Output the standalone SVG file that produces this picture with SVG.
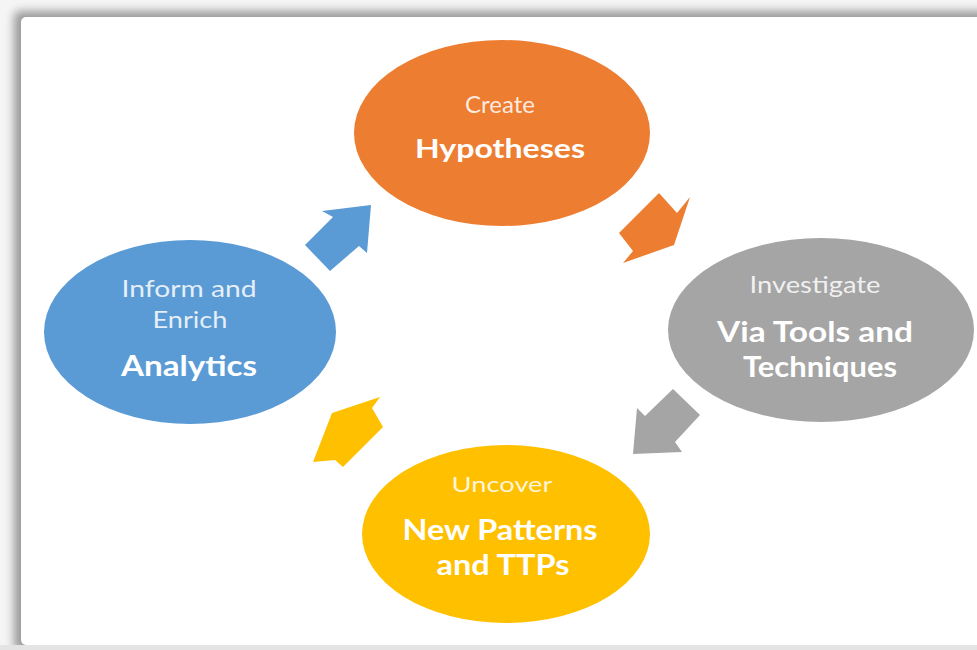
<svg xmlns="http://www.w3.org/2000/svg" width="977" height="650" viewBox="0 0 977 650">
<defs>
<filter id="sh" x="-10%" y="-10%" width="120%" height="120%">
<feGaussianBlur stdDeviation="5"/>
</filter>
<style>
.t{font-family:Lato,"Open Sans","Liberation Sans",sans-serif;text-anchor:middle;}
.n{fill:#ffffff;fill-opacity:0.85;font-weight:400;}
.b{fill:#ffffff;font-weight:700;}
</style>
</defs>
<rect x="0" y="0" width="977" height="650" fill="#f5f5f5"/>
<rect x="14" y="11" width="990" height="640" rx="6" fill="#9a9a9a" filter="url(#sh)"/>
<rect x="21" y="17" width="970" height="628" rx="5" fill="#ffffff"/>
<rect x="0" y="645" width="977" height="5" fill="#e4e4e4"/>

<g id="connectors">
<polygon points="322,211 371,205 367,253 359,246 330,271 305,245 333,217" fill="#5b9bd5"/>
<polygon points="659,193 677,213 690,197 674,245 623,263 633,251 619,233" fill="#ed7d31"/>
<polygon points="673,389 700,415 675,442 682,452 633,454 637,408 645,416" fill="#a5a5a5"/>
<polygon points="332,413 380,397 372,408 383,427 343,467 335,460 313,462" fill="#ffc000"/>
</g>

<g id="node-create">
<ellipse cx="502" cy="133" rx="148" ry="93" fill="#ed7d31"/>
<text class="t n" x="500" y="113" font-size="24" textLength="70" lengthAdjust="spacingAndGlyphs">Create</text>
<text class="t b" x="500" y="158" font-size="27" textLength="170" lengthAdjust="spacingAndGlyphs">Hypotheses</text>
</g>

<g id="node-investigate">
<ellipse cx="821" cy="330" rx="153" ry="92" fill="#a5a5a5"/>
<text class="t n" x="815" y="293" font-size="24" textLength="131" lengthAdjust="spacingAndGlyphs">Investigate</text>
<text class="t b" x="815" y="342" font-size="29" textLength="196" lengthAdjust="spacingAndGlyphs">Via Tools and</text>
<text class="t b" x="820" y="377" font-size="29" textLength="154" lengthAdjust="spacingAndGlyphs">Techniques</text>
</g>

<g id="node-uncover">
<ellipse cx="506" cy="534" rx="144" ry="89" fill="#ffc000"/>
<text class="t n" x="502" y="492" font-size="22" textLength="101" lengthAdjust="spacingAndGlyphs">Uncover</text>
<text class="t b" x="500" y="540" font-size="29" textLength="195" lengthAdjust="spacingAndGlyphs">New Patterns</text>
<text class="t b" x="503" y="575" font-size="29" textLength="133" lengthAdjust="spacingAndGlyphs">and TTPs</text>
</g>

<g id="node-analytics">
<ellipse cx="190" cy="332" rx="146" ry="92" fill="#5b9bd5"/>
<text class="t n" x="189" y="297" font-size="24" textLength="135" lengthAdjust="spacingAndGlyphs">Inform and</text>
<text class="t n" x="190" y="328" font-size="24" textLength="75" lengthAdjust="spacingAndGlyphs">Enrich</text>
<text class="t b" x="189" y="376" font-size="29" textLength="136" lengthAdjust="spacingAndGlyphs">Analytics</text>
</g>
</svg>
